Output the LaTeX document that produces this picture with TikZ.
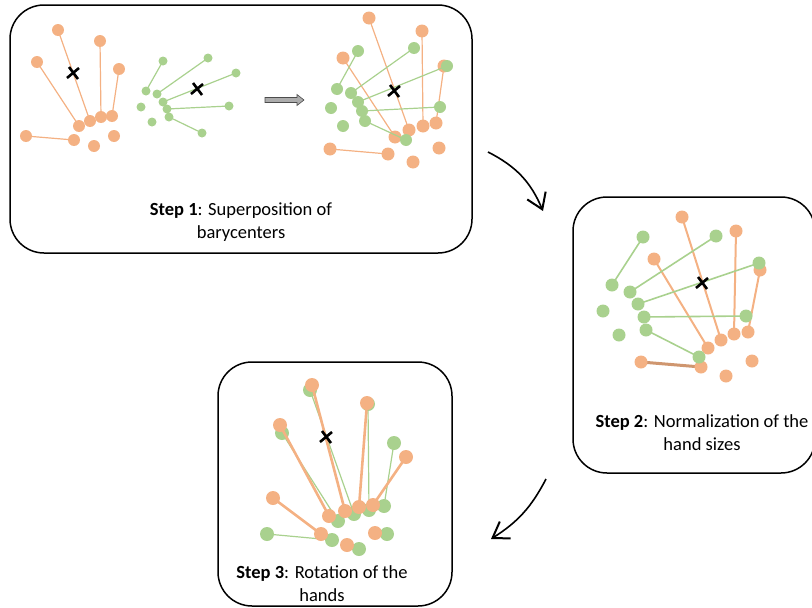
\documentclass[tikz,border=0pt]{standalone}
\usepackage{fontspec}
\setmainfont{Carlito}
\usetikzlibrary{arrows.meta}
\definecolor{handorange}{HTML}{F4B183}
\definecolor{handgreen}{HTML}{A9D18E}
\tikzset{
  panel/.style={line width=1.5pt, rounded corners=34pt},
  caption/.style={align=center, font=\fontsize{18.5}{23}\selectfont},
  obone/.style={handorange, line width=1.2pt},
  gbone/.style={handgreen, line width=1.2pt},
  barycross/.style={line width=2.6pt},
  bendarrow/.style={line width=1.6pt, -{Straight Barb[length=15pt,width=20pt,line width=2pt]}}
}
\newcommand{\bary}[1]{\draw[barycross] #1 +(-4,-6) -- +(5,6) #1 +(6,-5) -- +(-6,5);}
\begin{document}
\begin{tikzpicture}[x=1pt, y=-1pt]
  \useasboundingbox (0,0) rectangle (812,608);

  % Stap 1
  \draw[panel] (10,5) rectangle (472,253);
  \node[caption] (step1) at (241,222) {\textbf{Step 1}: Superposition of\\barycenters};
  % linkerhand (oranje)
  \foreach \x/\y/\u/\v in {58/30/90/121, 37/62/79/126, 100/41/101/117, 119/69/112/116, 26/136/74/140}
    \draw[obone] (\x,\y) -- (\u,\v);
  \foreach \x/\y in {58/30, 100/41, 37/62, 119/69, 79/126, 90/121, 101/117, 112/116, 26/136, 74/140, 94/146, 114/136}
    \fill[handorange] (\x,\y) circle (6pt);
  \bary{(73,73)}
  % rechterhand (groen)
  \foreach \x/\y/\u/\v in {163/61/146/91, 208/58/157/94, 236/73/163/102, 229/106/167/109, 202/133/169/117}
    \draw[gbone] (\x,\y) -- (\u,\v);
  \foreach \x/\y in {163/61, 208/58, 236/73, 146/91, 157/94, 163/102, 141/107, 167/109, 229/106, 169/117, 152/122, 202/133}
    \fill[handgreen] (\x,\y) circle (4.5pt);
  \bary{(197,89)}
  % pijltje
  \filldraw[fill=gray!65, draw=black!70, line width=0.6pt]
    (265,97.5) -- (297,97.5) -- (297,94.5) -- (304,100) -- (297,105.5) -- (297,102.5) -- (265,102.5) -- cycle;
  % over elkaar
  \foreach \x/\y/\u/\v in {369/18/409/130, 343/58/395/137, 422/31/423/126, 444/66/436/123, 330/149/388/154}
    \draw[obone] (\x,\y) -- (\u,\v);
  \foreach \x/\y in {369/18, 422/31, 343/58, 444/66, 395/137, 409/130, 423/126, 436/123, 330/149, 388/154, 413/162, 439/148}
    \fill[handorange] (\x,\y) circle (6.5pt);
  \foreach \x/\y/\u/\v in {358/51/337/89, 414/48/351/93, 447/66/358/102, 440/107/362/111, 406/140/365/121}
    \draw[gbone] (\x,\y) -- (\u,\v);
  \foreach \x/\y in {358/51, 414/48, 447/66, 337/89, 351/93, 358/102, 331/108, 362/111, 440/107, 365/121, 343/126, 406/140}
    \fill[handgreen] (\x,\y) circle (6pt);
  \bary{(394,91)}

  % Stap 2
  \draw[panel] (573,197) rectangle (815,473);
  \node[caption] (step2) at (702,433) {\textbf{Step 2}: Normalization of the\\hand sizes};
  \foreach \x/\y/\u/\v in {682/217/721/340, 654/259/708/348, 736/231/734/334, 760/270/748/332}
    \draw[obone, line width=2pt] (\x,\y) -- (\u,\v);
  \draw[obone, line width=3pt, handorange!85!black] (641,362) -- (701,367);
  \foreach \x/\y in {682/217, 736/231, 654/259, 760/270, 708/348, 721/340, 734/334, 748/332, 641/362, 701/367, 726/376, 752/361}
    \fill[handorange] (\x,\y) circle (6.5pt);
  \foreach \x/\y/\u/\v in {643/237/612/285, 716/236/630/292, 759/263/638/304, 746/316/644/317, 699/357/646/330}
    \draw[gbone, line width=1.6pt] (\x,\y) -- (\u,\v);
  \foreach \x/\y in {643/237, 716/236, 759/263, 612/285, 630/292, 638/304, 603/311, 644/317, 746/316, 646/330, 619/335, 699/357}
    \fill[handgreen] (\x,\y) circle (6.5pt);
  \bary{(702,283)}

  % Stap 3
  \draw[panel] (218,362) rectangle (452,606);
  \node[caption] (step3) at (322,584) {\textbf{Step 3}: Rotation of the\\hands};
  \foreach \x/\y/\u/\v in {310/390/354/514, 282/433/338/521, 368/404/369/510, 394/443/384/506, 267/534/332/540}
    \draw[gbone] (\x,\y) -- (\u,\v);
  \foreach \x/\y in {310/390, 368/404, 282/433, 394/443, 267/534, 338/521, 354/514, 369/510, 384/506, 332/540, 359/549, 387/534}
    \fill[handgreen] (\x,\y) circle (7pt);
  \foreach \x/\y/\u/\v in {312/385/345/511, 280/425/329/516, 367/403/359/507, 406/457/373/505, 273/498/321/534}
    \draw[obone, line width=2.6pt] (\x,\y) -- (\u,\v);
  \foreach \x/\y in {312/385, 367/403, 280/425, 406/457, 273/498, 329/516, 345/511, 359/507, 373/505, 321/534, 347/545, 375/533}
    \fill[handorange] (\x,\y) circle (7pt);
  \bary{(326,437)}

  % pijlen tussen de stappen
  \coordinate (a1) at (488,152);
  \coordinate (b1) at (543,211);
  \coordinate (a2) at (546,479);
  \coordinate (b2) at (491,539);
  \draw[bendarrow] (a1) to[bend left=20] (b1);
  \draw[bendarrow] (a2) to[bend left=15] (b2);
\end{tikzpicture}
\end{document}
